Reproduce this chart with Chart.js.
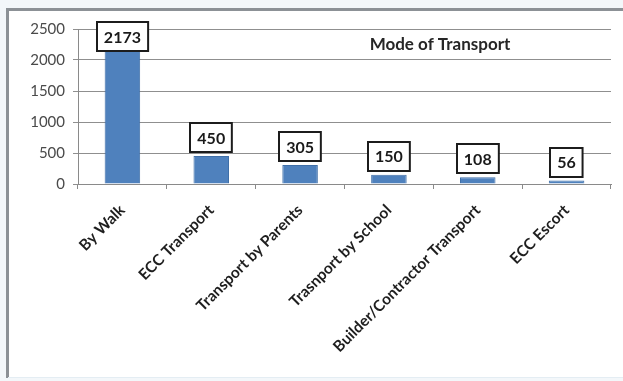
<!DOCTYPE html>
<html>
<head>
<meta charset="utf-8">
<script src="https://cdn.jsdelivr.net/npm/chart.js@4.4.1/dist/chart.umd.min.js"></script>
<style>
  html,body{margin:0;padding:0;background:#f3f7fa}
  #wrap{position:absolute;left:0;top:0;width:623px;height:381px}
</style>
</head>
<body>
<div id="wrap"><canvas id="c" width="623" height="381"></canvas></div>
<script>
// mode of transport counts
const categories = ["By Walk", "ECC Transport", "Transport by Parents", "Trasnport by School",
                    "Builder/Contractor Transport", "ECC Escort"];
const counts = [2173, 450, 305, 150, 108, 56];
const yTicks = [0, 500, 1000, 1500, 2000, 2500];
const chartTitle = "Mode of Transport";

const FONT = "Lato, 'Open Sans', sans-serif";

// grey frame + white panel behind everything
const frame = {
  id: "frame",
  beforeDraw(chart) {
    const ctx = chart.ctx;
    ctx.save();
    ctx.fillStyle = "#f3f7fa";
    ctx.fillRect(0, 0, chart.width, chart.height);
    ctx.fillStyle = "#ffffff";
    ctx.fillRect(8, 10, chart.width - 8, 367);
    ctx.fillStyle = "#8c9196";
    ctx.fillRect(6, 8, chart.width - 6, 3);
    ctx.fillRect(6, 8, 3, 370);
    ctx.fillStyle = "#e4edf3";
    ctx.fillRect(8, 377, chart.width - 8, 1);
    ctx.restore();
  },
};

// boxed value labels above each bar, plus the in-plot title
const boxes = {
  id: "boxes",
  afterDatasetsDraw(chart) {
    const ctx = chart.ctx, area = chart.chartArea;
    const meta = chart.getDatasetMeta(0);
    ctx.save();
    ctx.font = "bold 16px " + FONT;
    ctx.textAlign = "center";
    ctx.textBaseline = "middle";
    meta.data.forEach((bar, i) => {
      const txt = String(counts[i]);
      const w = ctx.measureText(txt).width + 14, h = 29;
      let top = bar.y - 4 - h;
      if (top < area.top - 7) top = area.top - 7;
      const left = Math.round(bar.x - w / 2);
      ctx.fillStyle = "#ffffff";
      ctx.fillRect(left, Math.round(top), w, h);
      ctx.strokeStyle = "#1c1c1c";
      ctx.lineWidth = 2;
      ctx.strokeRect(left, Math.round(top), w, h);
      ctx.fillStyle = "#1a1a1a";
      ctx.fillText(txt, bar.x, top + h / 2 + 1);
    });
    ctx.font = "bold 17px " + FONT;
    ctx.fillStyle = "#262626";
    ctx.fillText(chartTitle, 440, 45);
    ctx.restore();
  },
};

new Chart(document.getElementById("c"), {
  type: "bar",
  data: {
    labels: categories,
    datasets: [{
      data: counts,
      backgroundColor: "#4f81bd",
      borderColor: "#3f6fa8",
      borderWidth: 1,
      categoryPercentage: 1,
      barPercentage: 0.4,
    }],
  },
  options: {
    responsive: false,
    animation: false,
    layout: { padding: { left: 14, right: 12, top: 29, bottom: 0 } },
    plugins: { legend: { display: false }, tooltip: { enabled: false }, title: { display: false } },
    scales: {
      x: {
        grid: { display: true, drawOnChartArea: false, drawTicks: true, tickLength: 5, color: "#8a8a8a", offset: true },
        border: { color: "#8a8a8a" },
        ticks: {
          minRotation: 45, maxRotation: 45, autoSkip: false, padding: 12,
          color: "#1e1e1e", font: { family: FONT, size: 15.5, weight: "bold" },
        },
        afterFit(s) { s.height = 197; },
      },
      y: {
        min: 0, max: 2500,
        afterBuildTicks(s) { s.ticks = yTicks.map(v => ({ value: v })); },
        grid: { color: "#8f8f8f", tickLength: 5 },
        border: { color: "#8a8a8a" },
        ticks: {
          color: "#4a4a4a", padding: 8, font: { family: FONT, size: 15 },
          callback: v => String(v),
        },
        afterFit(s) { s.width = 64; },
      },
    },
  },
  plugins: [frame, boxes],
});
</script>
</body>
</html>
